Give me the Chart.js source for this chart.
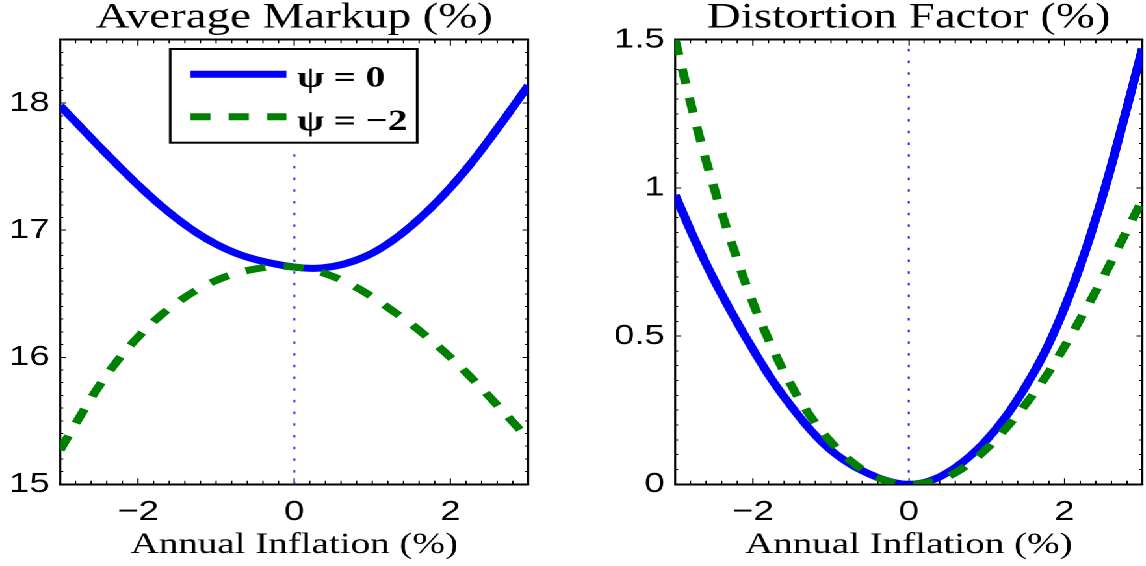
<!DOCTYPE html>
<html>
<head>
<meta charset="utf-8">
<script src="https://cdn.jsdelivr.net/npm/chart.js@4.4.0/dist/chart.umd.min.js"></script>
<style>
  html, body { margin: 0; padding: 0; background: #fff; overflow: hidden; }
  /* the reference figure is stretched sideways, so the whole stage is too */
  #stage { position: absolute; left: 0; top: 0; width: 881.5px; height: 566px; transform: scaleX(1.3); transform-origin: 0 0; }
  .panel { position: absolute; top: 0; width: 440.75px; height: 566px; }
</style>
</head>
<body>
<div id="stage">
  <div class="panel" style="left:0"><canvas id="markup_chart"></canvas></div>
  <div class="panel" style="left:440.75px"><canvas id="distortion_chart"></canvas></div>
</div>
<script>
// data
const inflation = [-3, -2.75, -2.5, -2.25, -2, -1.75, -1.5, -1.25, -1, -0.75, -0.5, -0.25, 0,
  0.25, 0.5, 0.75, 1, 1.25, 1.5, 1.75, 2, 2.25, 2.5, 2.75, 3];
const markupPsi0 = [17.98, 17.82, 17.66, 17.505, 17.355, 17.215, 17.09, 16.98, 16.89, 16.82, 16.77, 16.735, 16.71,
  16.70, 16.715, 16.755, 16.82, 16.915, 17.035, 17.175, 17.335, 17.515, 17.715, 17.925, 18.14];
const markupPsi2 = [15.27, 15.53, 15.775, 15.985, 16.16, 16.31, 16.43, 16.53, 16.605, 16.66, 16.695, 16.715, 16.71,
  16.685, 16.635, 16.565, 16.475, 16.37, 16.26, 16.135, 16.0, 15.85, 15.69, 15.525, 15.355];
const distortionPsi0 = [0.976, 0.826, 0.69, 0.568, 0.455, 0.35, 0.26, 0.18, 0.115, 0.068, 0.034, 0.01, 0,
  0.01, 0.04, 0.087, 0.15, 0.23, 0.33, 0.448, 0.596, 0.774, 0.982, 1.22, 1.47];
const distortionPsi2 = [1.50, 1.235, 1.00, 0.795, 0.612, 0.46, 0.33, 0.225, 0.143, 0.08, 0.035, 0.009, 0,
  0.007, 0.026, 0.065, 0.12, 0.19, 0.27, 0.36, 0.465, 0.58, 0.70, 0.83, 0.96];
const seriesLabels = ["ψ = 0", "ψ = −2"];
const zeroLineX = [0, 0];
const markupZeroLine = [15, 17.6];
const distortionZeroLine = [0, 1.5];
const xTicks = [-2, 0, 2];
const markupTicks = [15, 16, 17, 18];
const distortionTicks = [0, 0.5, 1, 1.5];

function toPoints(xs, ys) {
  return xs.map((x, i) => ({ x: x, y: ys[i] }));
}
function formatTick(value) {
  return value < 0 ? "\u2212" + Math.abs(value) : String(value);
}
function majorTicks(values) {
  return (axis) => { axis.ticks = values.map((v) => ({ value: v })); };
}
function fixedSize(size) {
  return (axis) => { if (axis.isHorizontal()) axis.height = size; else axis.width = size; };
}
// negative tick length puts the marks inside the box, like matlab
function tickGrid(len) {
  return { drawOnChartArea: false, drawTicks: true, tickLength: len, tickColor: "#000", tickWidth: 1 };
}
const tickFont = { family: "'Liberation Sans', Arial, sans-serif", size: 28 };

function buildScales(yMin, yMax, yTicks, yMinorStep, yAxisWidth) {
  const xBase = { type: "linear", min: -3, max: 3 };
  const yBase = { type: "linear", min: yMin, max: yMax };
  return {
    x: {
      ...xBase, position: "bottom", weight: 1,
      afterBuildTicks: majorTicks(xTicks), afterFit: fixedSize(81.7),
      grid: tickGrid(-6), border: { display: true, color: "#000", width: 2 },
      ticks: { color: "#000", font: tickFont, padding: 17.2, callback: formatTick, maxRotation: 0, autoSkip: false },
      title: {
        display: true, text: "Annual Inflation (%)", color: "#000",
        font: { family: "'Liberation Serif', 'Times New Roman', serif", size: 30 },
        padding: { top: 0, bottom: 3 },
      },
    },
    xMinor: {
      ...xBase, position: "bottom", weight: 0, afterFit: fixedSize(0),
      grid: tickGrid(-3.5), border: { display: false }, ticks: { display: false, stepSize: 0.2 },
    },
    xTop: {
      ...xBase, position: "top", weight: 1, afterBuildTicks: majorTicks(xTicks), afterFit: fixedSize(0),
      grid: tickGrid(-6), border: { display: true, color: "#000", width: 2 }, ticks: { display: false },
    },
    xTopMinor: {
      ...xBase, position: "top", weight: 0, afterFit: fixedSize(0),
      grid: tickGrid(-3.5), border: { display: false }, ticks: { display: false, stepSize: 0.2 },
    },
    y: {
      ...yBase, position: "left", weight: 1,
      afterBuildTicks: majorTicks(yTicks), afterFit: fixedSize(yAxisWidth),
      grid: tickGrid(-4.6), border: { display: true, color: "#000", width: 1.6 },
      ticks: { color: "#000", font: tickFont, padding: 12.6, callback: formatTick, autoSkip: false },
    },
    yMinor: {
      ...yBase, position: "left", weight: 0, afterFit: fixedSize(0),
      grid: tickGrid(-2.4), border: { display: false }, ticks: { display: false, stepSize: yMinorStep },
    },
    yRight: {
      ...yBase, position: "right", weight: 1, afterBuildTicks: majorTicks(yTicks), afterFit: fixedSize(0),
      grid: tickGrid(-4.6), border: { display: true, color: "#000", width: 1.6 }, ticks: { display: false },
    },
    yRightMinor: {
      ...yBase, position: "right", weight: 0, afterFit: fixedSize(0),
      grid: tickGrid(-2.4), border: { display: false }, ticks: { display: false, stepSize: yMinorStep },
    },
  };
}

function buildDatasets(psi0, psi2, zeroLine) {
  return [
    {
      label: seriesLabels[0], data: toPoints(inflation, psi0),
      borderColor: "#0000ff", borderWidth: 7, pointRadius: 0, tension: 0.4, order: 1,
    },
    {
      label: seriesLabels[1], data: toPoints(inflation, psi2),
      borderColor: "#008000", borderWidth: 7, borderDash: [15.5, 14], pointRadius: 0, tension: 0.4, order: 0,
    },
    {
      label: "zero", data: toPoints(zeroLineX, zeroLine),
      borderColor: "#1f1fff", borderWidth: 1.5, borderDash: [2.5, 9.2], pointRadius: 0, order: 2,
    },
  ];
}

// boxed legend inside the left panel
const legendBox = {
  id: "legendBox",
  afterDatasetsDraw(chart, args, opts) {
    if (!opts.display) return;
    const ctx = chart.ctx;
    ctx.save();
    ctx.fillStyle = "#fff";
    ctx.fillRect(opts.left, opts.top, opts.width, opts.height);
    ctx.lineWidth = 2;
    ctx.strokeStyle = "#000";
    ctx.strokeRect(opts.left, opts.top, opts.width, opts.height);
    chart.data.datasets.slice(0, 2).forEach((ds, i) => {
      ctx.beginPath();
      ctx.setLineDash(ds.borderDash || []);
      ctx.lineWidth = ds.borderWidth;
      ctx.strokeStyle = ds.borderColor;
      ctx.moveTo(opts.lineStart, opts.lineY[i]);
      ctx.lineTo(opts.lineEnd, opts.lineY[i]);
      ctx.stroke();
      ctx.setLineDash([]);
      ctx.fillStyle = "#000";
      ctx.font = "bold 30px 'Liberation Serif', 'Times New Roman', serif";
      ctx.textBaseline = "alphabetic";
      ctx.fillText(ds.label, opts.textX, opts.textY[i]);
    });
    ctx.restore();
  },
};

function makeChart(canvasId, titleText, psi0, psi2, zeroLine, yMin, yMax, yTicks, yMinorStep, yAxisWidth, padRight, legendOpts) {
  return new Chart(document.getElementById(canvasId), {
    type: "line",
    data: { datasets: buildDatasets(psi0, psi2, zeroLine) },
    options: {
      responsive: true,
      maintainAspectRatio: false,
      devicePixelRatio: 2,
      animation: false,
      layout: { padding: { left: 0, right: padRight, top: 0, bottom: 0 } },
      scales: buildScales(yMin, yMax, yTicks, yMinorStep, yAxisWidth),
      plugins: {
        legend: { display: false },
        tooltip: { enabled: false },
        title: {
          display: true, text: titleText, color: "#000", fullSize: false,
          font: { family: "'Liberation Serif', 'Times New Roman', serif", size: 36, weight: "normal", lineHeight: 1 },
          padding: { top: 0, bottom: 3.7 },
        },
        legendBox: legendOpts,
      },
    },
    plugins: [legendBox],
  });
}

makeChart("markup_chart", "Average Markup (%)", markupPsi0, markupPsi2, markupZeroLine,
  15, 18.5, markupTicks, 0.1, 46.2, 34.85, {
    display: true, left: 130.8, top: 49, width: 189.7, height: 93.7,
    lineStart: 146.2, lineEnd: 220, lineY: [74.3, 116.7], textX: 228.2, textY: [86.7, 130],
  });

makeChart("distortion_chart", "Distortion Factor (%)", distortionPsi0, distortionPsi2, distortionZeroLine,
  0, 1.5, distortionTicks, 0.05, 78.25, 2.5, { display: false });
</script>
</body>
</html>
